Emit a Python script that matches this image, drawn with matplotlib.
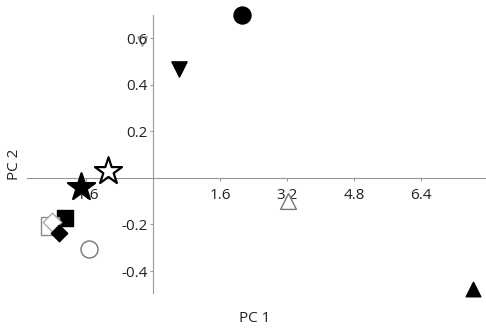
import matplotlib.pyplot as plt

plt.rcParams['font.family'] = ['Open Sans', 'DejaVu Sans']

# PCA scores (PC1, PC2)
pc1 = [2.12, -0.26, 0.62, -1.07, -1.72, 3.22, -2.10, -2.46, -2.40, -2.24, -1.53, 7.64]
pc2 = [0.70, 0.59, 0.47, 0.03, -0.04, -0.10, -0.17, -0.205, -0.19, -0.235, -0.305, -0.476]
markers = ['o', 'v', 'v', '*', '*', '^', 's', 's', 'D', 'D', 'o', '^']
filled = [True, False, True, False, True, False, True, False, False, True, False, True]
sizes = [150, 45, 120, 420, 420, 130, 130, 160, 90, 70, 150, 110]
edge = ['black', '#999999', 'black', 'black', 'black', '#777777', 'black', '#888888',
        '#aaaaaa', 'black', '#777777', 'black']

xticks = [-1.6, 1.6, 3.2, 4.8, 6.4]
yticks = [-0.4, -0.2, 0.2, 0.4, 0.6]

fig = plt.figure(figsize=(4.86, 3.28), dpi=100)
ax = fig.add_axes([0.056, 0.107, 0.944, 0.847])

for x, y, m, f, s, e in zip(pc1, pc2, markers, filled, sizes, edge):
    # the small open triangle sits under the 0.6 label
    z = 1 if (m == 'v' and not f) else 5
    ax.scatter(x, y, marker=m, s=s, facecolor='black' if f else 'white',
               edgecolor=e, linewidth=1.6 if m == '*' else 1.0, zorder=z, clip_on=False)

ax.set_xlim(-3.0, 7.95)
ax.set_ylim(-0.494, 0.70)
ax.spines['left'].set_position('zero')
ax.spines['bottom'].set_position('zero')
ax.spines['right'].set_visible(False)
ax.spines['top'].set_visible(False)
for s in ['left', 'bottom']:
    ax.spines[s].set_color('#999999')
    ax.spines[s].set_linewidth(0.8)

ax.set_xticks(xticks)
ax.set_xticklabels([str(t) for t in xticks])
ax.set_yticks(yticks)
ax.set_yticklabels([str(t) for t in yticks])
ax.tick_params(axis='x', length=2, color='#999999', labelsize=11, labelcolor='#222222', pad=5)
ax.tick_params(axis='y', length=2, color='#999999', labelsize=11, labelcolor='#222222', pad=2)

fig.text(0.525, 0.03, 'PC 1', ha='center', va='center', fontsize=11, color='#222222')
fig.text(0.03, 0.50, 'PC 2', ha='center', va='center', rotation=90, fontsize=11,
         color='#222222')

fig.savefig('out.png', dpi=100)
